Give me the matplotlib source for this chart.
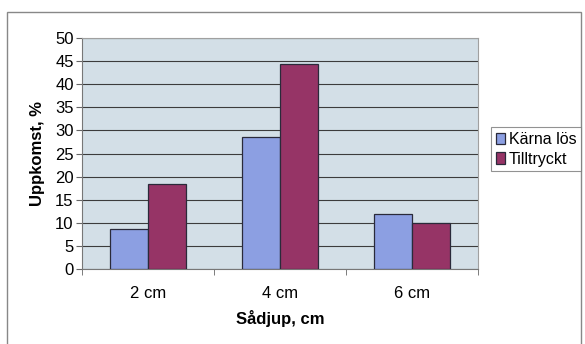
import matplotlib
matplotlib.use('Agg')
import matplotlib.pyplot as plt
import numpy as np
from matplotlib.patches import Rectangle

plt.rcParams['font.family'] = ['Liberation Sans', 'DejaVu Sans']

depths = ['2 cm', '4 cm', '6 cm']
karna_los = [8.7, 28.6, 12.0]
tilltryckt = [18.5, 44.4, 10.0]
series_names = ['Kärna lös', 'Tilltryckt']

W, H = 585, 344
fig = plt.figure(figsize=(W / 100, H / 100), dpi=100)
fig.patch.set_facecolor('white')

# outer chart frame
fig.add_artist(Rectangle((7 / W, -0.05), (581 - 7) / W, 1.05 - 12 / H,
                         transform=fig.transFigure, fill=False,
                         edgecolor='#888888', linewidth=1.0))

ax = fig.add_axes([82 / W, 1 - 269 / H, (478 - 82) / W, (269 - 38) / H])
ax.set_facecolor('#d3dfe7')

x = np.arange(len(depths))
bw = 0.29
ax.bar(x - bw / 2, karna_los, bw, color='#8c9fe2', edgecolor='#2a2a3a',
       linewidth=0.9, label=series_names[0], zorder=3)
ax.bar(x + bw / 2, tilltryckt, bw, color='#963466', edgecolor='#2a2a3a',
       linewidth=0.9, label=series_names[1], zorder=3)

ax.set_xlim(-0.5, len(depths) - 0.5)
ax.set_ylim(0, 50)
ax.set_yticks(range(0, 51, 5))
ax.yaxis.grid(True, color='#3c3c3c', linewidth=0.8, zorder=1)
ax.set_xticks(x)
ax.set_xticklabels(depths, fontsize=12)
ax.set_xticks(np.arange(-0.5, len(depths)), minor=True)
ax.tick_params(axis='x', which='major', length=0, pad=12)
ax.tick_params(axis='x', which='minor', length=4, color='#666666', direction='out')
ax.tick_params(axis='y', length=4, color='#666666', labelsize=12, pad=2)

for side in ['top', 'right']:
    ax.spines[side].set_color('#a0a0a0')
    ax.spines[side].set_linewidth(0.8)
ax.spines['left'].set_color('#777777')
ax.spines['bottom'].set_color('#777777')

ax.set_xlabel('Sådjup, cm', fontsize=12, fontweight='bold', labelpad=7)
ax.set_ylabel('Uppkomst, %', fontsize=12, fontweight='bold', labelpad=7)

leg = fig.legend(loc='upper left', bbox_to_anchor=(491 / W, 1 - 127 / H),
                 fontsize=11.5, frameon=True, fancybox=False, handlelength=0.6,
                 handleheight=0.7, handletextpad=0.2, borderpad=0.3,
                 labelspacing=0.3, borderaxespad=0)
leg.get_frame().set_edgecolor('#777777')
leg.get_frame().set_linewidth(0.8)

fig.savefig('out.png', dpi=100)
